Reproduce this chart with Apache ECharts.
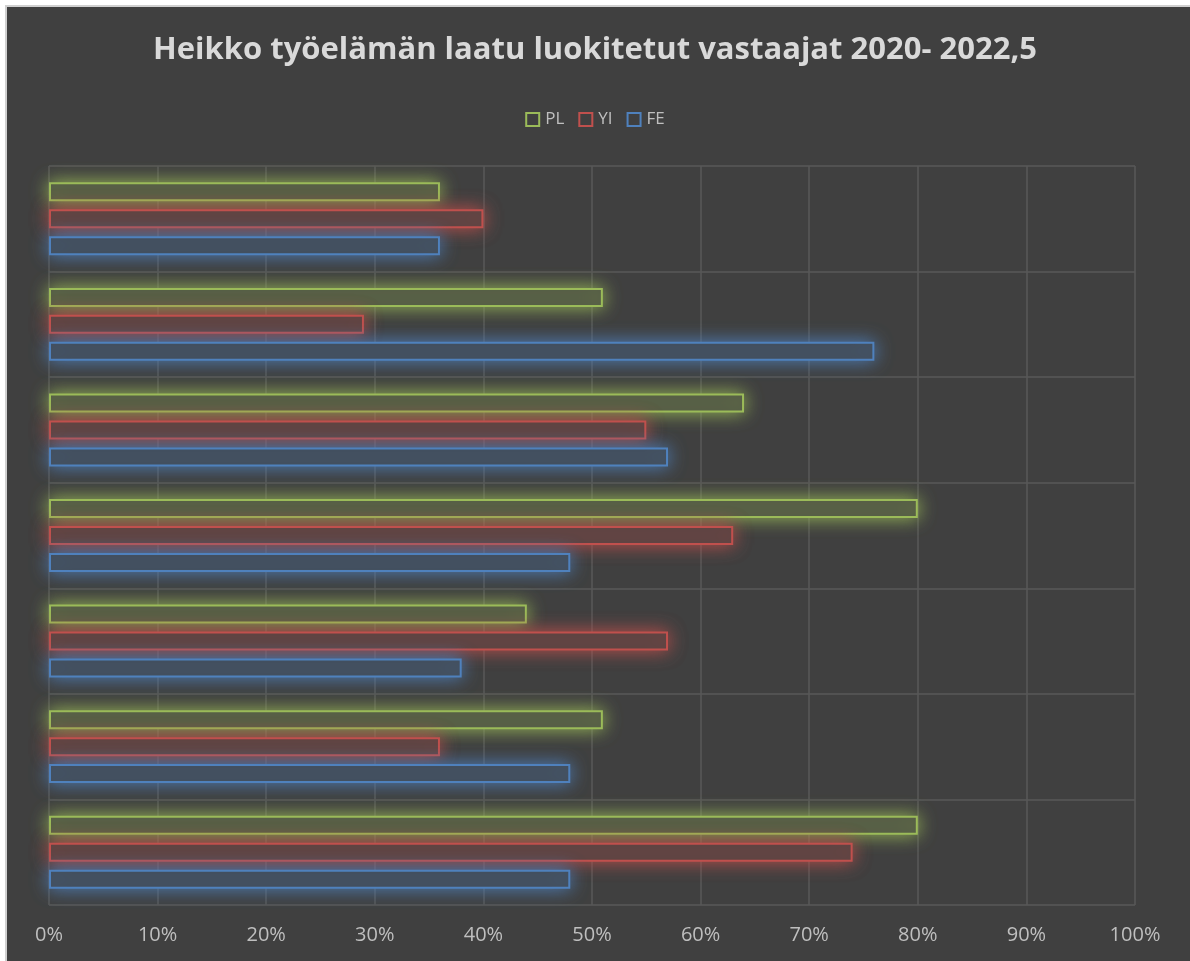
<!DOCTYPE html>
<html>
<head>
<meta charset="utf-8">
<script src="https://cdn.jsdelivr.net/npm/echarts@6/dist/echarts.min.js"></script>
<style>
  html, body { margin: 0; padding: 0; background: #404040; width: 1190px; height: 961px; overflow: hidden; }
  #chart { position: absolute; left: 0; top: 0; width: 1190px; height: 961px; }
  .strip { position: absolute; z-index: 5; }
</style>
</head>
<body>
<div id="chart"></div>
<div class="strip" style="left:0;top:0;width:5px;height:961px;background:#ffffff"></div>
<div class="strip" style="left:0;top:0;width:1190px;height:5px;background:#ffffff"></div>
<div class="strip" style="left:5px;top:5px;width:2px;height:956px;background:#d0d0d0"></div>
<div class="strip" style="left:5px;top:5px;width:1185px;height:2px;background:#d0d0d0"></div>
<script>
const titleText = 'Heikko työelämän laatu luokitetut vastaajat 2020- 2022,5';
const categories = ['1', '2', '3', '4', '5', '6', '7'];
const seriesNames = ['PL', 'YI', 'FE'];
const plValues = [0.36, 0.51, 0.64, 0.80, 0.44, 0.51, 0.80];
const yiValues = [0.40, 0.29, 0.55, 0.63, 0.57, 0.36, 0.74];
const feValues = [0.36, 0.76, 0.57, 0.48, 0.38, 0.48, 0.48];
const xTicks = [0, 0.1, 0.2, 0.3, 0.4, 0.5, 0.6, 0.7, 0.8, 0.9, 1.0];

const colors = {
  PL: [155, 187, 89],
  YI: [192, 80, 77],
  FE: [79, 129, 189]
};
const bg = [64, 64, 64];
const rgba = (c, a) => `rgba(${c[0]},${c[1]},${c[2]},${a})`;
const blend = (c, a) => `rgb(${c.map((v, i) => Math.round(bg[i] + a * (v - bg[i]))).join(',')})`;

function mkSeries(name, data) {
  const c = colors[name];
  return {
    name: name,
    type: 'bar',
    data: data,
    barWidth: 19,
    barGap: '42%',
    itemStyle: {
      color: blend(c, 0.16),
      borderColor: rgba(c, 1),
      borderWidth: 2,
      shadowColor: rgba(c, 1),
      shadowBlur: 18
    },
    emphasis: { disabled: true }
  };
}

const chart = echarts.init(document.getElementById('chart'), null, { renderer: 'canvas' });
chart.setOption({
  backgroundColor: '#404040',
  animation: false,
  title: {
    text: titleText,
    left: 'center',
    top: 30,
    textStyle: {
      color: '#d9d9d9',
      fontFamily: 'Open Sans',
      fontWeight: 'bold',
      fontSize: 31
    }
  },
  legend: {
    top: 106,
    left: 'center',
    icon: 'rect',
    itemWidth: 13,
    itemHeight: 13,
    itemGap: 14,
    textStyle: { color: '#bfbfbf', fontFamily: 'Open Sans', fontSize: 17, padding: [0, 0, 0, 1] },
    data: seriesNames.map(n => ({
      name: n,
      itemStyle: { color: 'transparent', borderColor: rgba(colors[n], 1), borderWidth: 2, shadowBlur: 0 }
    }))
  },
  grid: { left: 49, right: 55, top: 166, bottom: 56, containLabel: false },
  xAxis: {
    type: 'value',
    min: 0,
    max: 1,
    interval: 0.1,
    axisLine: { show: false },
    axisTick: { show: false },
    splitLine: { show: true, lineStyle: { color: '#595959', width: 1.5 } },
    axisLabel: {
      color: '#bfbfbf',
      fontFamily: 'Open Sans',
      fontSize: 20,
      margin: 20,
      formatter: v => xTicks.some(t => Math.abs(t - v) < 1e-9) ? Math.round(v * 100) + '%' : ''
    }
  },
  yAxis: {
    type: 'category',
    inverse: true,
    data: categories,
    axisLine: { show: false },
    axisTick: { show: false },
    axisLabel: { show: false },
    splitLine: { show: true, lineStyle: { color: '#595959', width: 1.5 } }
  },
  series: [
    mkSeries('PL', plValues),
    mkSeries('YI', yiValues),
    mkSeries('FE', feValues)
  ]
});
</script>
</body>
</html>
